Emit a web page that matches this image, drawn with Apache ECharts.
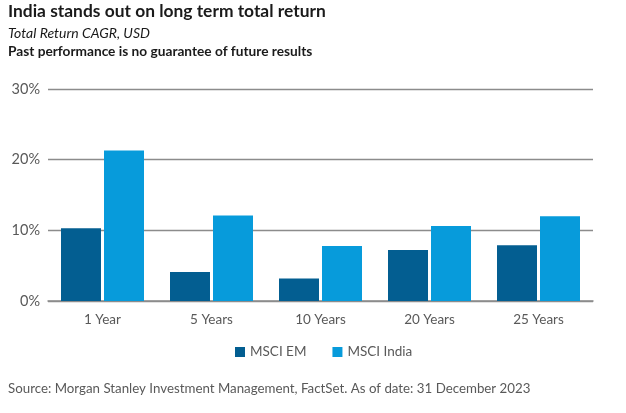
<!DOCTYPE html>
<html><head><meta charset="utf-8">
<script src="https://cdn.jsdelivr.net/npm/echarts@6/dist/echarts.min.js"></script>
<style>html,body{margin:0;padding:0;background:#fff}#c{width:626px;height:413px}</style>
</head><body><div id="c"></div>
<script>
const categories = ['1 Year', '5 Years', '10 Years', '20 Years', '25 Years'];
const msciEM = [10.3, 4.1, 3.2, 7.2, 7.9];
const msciIndia = [21.3, 12.1, 7.8, 10.6, 12.0];
const yTicks = [0, 10, 20, 30];
const FONT = 'Lato';
const chart = echarts.init(document.getElementById('c'), null, {renderer: 'canvas'});
chart.setOption({
  animation: false,
  textStyle: {fontFamily: FONT},
  title: [
    {text: 'India stands out on long term total return', left: 3, top: -2.5,
     textStyle: {fontFamily: FONT, fontSize: 17.4, fontWeight: 'bold', color: '#1a1a1a'}},
    {text: 'Total Return CAGR, USD', left: 3, top: 21,
     textStyle: {fontFamily: FONT, fontSize: 14, fontStyle: 'italic', fontWeight: 'normal', color: '#1a1a1a'}},
    {text: 'Past performance is no guarantee of future results', left: 3, top: 40,
     textStyle: {fontFamily: FONT, fontSize: 13.7, fontWeight: 'bold', color: '#1a1a1a'}},
    {text: 'Source: Morgan Stanley Investment Management, FactSet. As of date: 31 December 2023', left: 3, top: 377.5,
     textStyle: {fontFamily: FONT, fontSize: 13.3, fontWeight: 'normal', color: '#595959'}}
  ],
  legend: {
    data: ['MSCI EM', 'MSCI India'], top: 340, left: 230,
    itemWidth: 10, itemHeight: 10, itemGap: 26, icon: 'rect',
    textStyle: {fontFamily: FONT, fontSize: 13.5, color: '#595959'}
  },
  grid: {left: 48, right: 33, top: 89, bottom: 112, containLabel: false},
  xAxis: {
    type: 'category', data: categories,
    axisLine: {show: true, lineStyle: {color: '#8c8c8c', width: 1.5}},
    axisTick: {show: false},
    axisLabel: {fontFamily: FONT, fontSize: 13.5, color: '#595959', margin: 12}
  },
  yAxis: {
    type: 'value', min: yTicks[0], max: yTicks[yTicks.length - 1], interval: 10,
    axisLine: {show: false}, axisTick: {show: false},
    splitLine: {lineStyle: {color: '#8c8c8c', width: 1.3}},
    axisLabel: {fontFamily: FONT, fontSize: 14.5, color: '#595959', margin: 8, formatter: v => v + '%'}
  },
  series: [
    {name: 'MSCI EM', type: 'bar', data: msciEM, barWidth: 40, barGap: '7.5%',
     itemStyle: {color: '#035E91'}},
    {name: 'MSCI India', type: 'bar', data: msciIndia, barWidth: 40,
     itemStyle: {color: '#079BDB'}}
  ]
});
</script></body></html>
